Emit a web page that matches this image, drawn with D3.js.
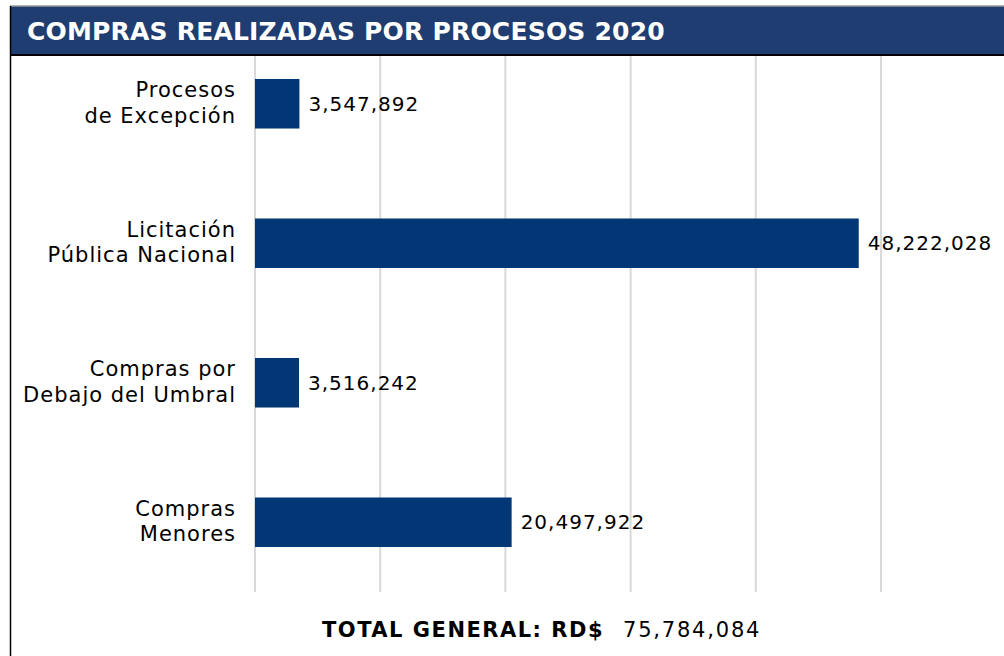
<!DOCTYPE html>
<html>
<head>
<meta charset="utf-8">
<script src="https://cdn.jsdelivr.net/npm/d3@7"></script>
<style>
  body { margin: 0; background: #fff; }
  svg { display: block; font-family: "DejaVu Sans", sans-serif; }
</style>
</head>
<body>
<svg id="drawing_region"></svg>
<script>
// chart data
const categories = [
    ["Procesos", "de Excepción"],
    ["Licitación", "Pública Nacional"],
    ["Compras por", "Debajo del Umbral"],
    ["Compras", "Menores"]
];
const values = [3547892, 48222028, 3516242, 20497922];
const ticks = [0, 10000000, 20000000, 30000000, 40000000, 50000000];
const title = "COMPRAS REALIZADAS POR PROCESOS 2020";
const totalLabel = "TOTAL GENERAL: RD$";
const totalValue = "75,784,084";

const width = 1004, height = 656;
const margin = {top: 34, right: 123, bottom: 64, left: 255};

const svg = d3.select('#drawing_region')
    .attr('width', width)
    .attr('height', height);

const inner_width = width - margin.left - margin.right;
const inner_height = height - margin.top - margin.bottom;

const chart = svg.append('g')
    .attr('transform', `translate(${margin.left}, ${margin.top})`);

const xscale = d3.scaleLinear()
    .domain([0, 50000000])
    .range([0, inner_width]);

const yscale = d3.scaleBand()
    .domain(d3.range(categories.length))
    .range([0, inner_height])
    .paddingInner(0.645)
    .paddingOuter(0.3225);

// vertical grid lines
chart.selectAll('.grid')
    .data(ticks)
    .enter()
    .append('line')
    .attr('x1', d => xscale(d))
    .attr('x2', d => xscale(d))
    .attr('y1', 0)
    .attr('y2', inner_height)
    .attr('stroke', '#d9d9d9')
    .attr('stroke-width', 2);

// bars
chart.selectAll('rect')
    .data(values)
    .enter()
    .append('rect')
    .attr('x', xscale(0))
    .attr('y', (d, i) => yscale(i))
    .attr('width', d => xscale(d) - xscale(0))
    .attr('height', yscale.bandwidth())
    .attr('fill', '#003774');

// value labels
chart.selectAll('.value')
    .data(values)
    .enter()
    .append('text')
    .attr('x', d => xscale(d) + 9)
    .attr('y', (d, i) => yscale(i) + yscale.bandwidth() / 2)
    .attr('dy', '0.35em')
    .attr('font-size', '20px')
    .attr('letter-spacing', '1px')
    .attr('fill', '#000')
    .text(d => d3.format(',')(d));

// category labels
const labels = chart.selectAll('.cat')
    .data(categories)
    .enter()
    .append('text')
    .attr('text-anchor', 'end')
    .attr('font-size', '21px')
    .attr('letter-spacing', '1px')
    .attr('fill', '#000')
    .attr('y', (d, i) => yscale(i) + yscale.bandwidth() / 2);

labels.selectAll('tspan')
    .data(d => d)
    .enter()
    .append('tspan')
    .attr('x', -19)
    .attr('dy', (d, i) => i === 0 ? '-0.3em' : '1.2em')
    .text(d => d);

// header bar
svg.append('rect')
    .attr('x', 10)
    .attr('y', 6)
    .attr('width', width - 10)
    .attr('height', 49)
    .attr('fill', '#1f3d70');

svg.append('line')
    .attr('x1', 10).attr('x2', width)
    .attr('y1', 6).attr('y2', 6)
    .attr('stroke', '#9a9a9a')
    .attr('stroke-width', 1.5);

svg.append('line')
    .attr('x1', 10).attr('x2', width)
    .attr('y1', 55).attr('y2', 55)
    .attr('stroke', '#000')
    .attr('stroke-width', 2);

svg.append('line')
    .attr('x1', 10.5).attr('x2', 10.5)
    .attr('y1', 6).attr('y2', height)
    .attr('stroke', '#000')
    .attr('stroke-width', 1.5);

svg.append('text')
    .attr('x', 27)
    .attr('y', 40)
    .attr('font-size', '25px')
    .attr('font-weight', 700)
    .attr('letter-spacing', '0.2px')
    .attr('fill', '#fff')
    .text(title);

// total line
svg.append('text')
    .attr('x', 322)
    .attr('y', 637)
    .attr('font-size', '21px')
    .attr('font-weight', 700)
    .attr('letter-spacing', '1.5px')
    .attr('fill', '#000')
    .text(totalLabel);

svg.append('text')
    .attr('x', 623)
    .attr('y', 637)
    .attr('font-size', '21px')
    .attr('letter-spacing', '1.8px')
    .attr('fill', '#000')
    .text(totalValue);
</script>
</body>
</html>
